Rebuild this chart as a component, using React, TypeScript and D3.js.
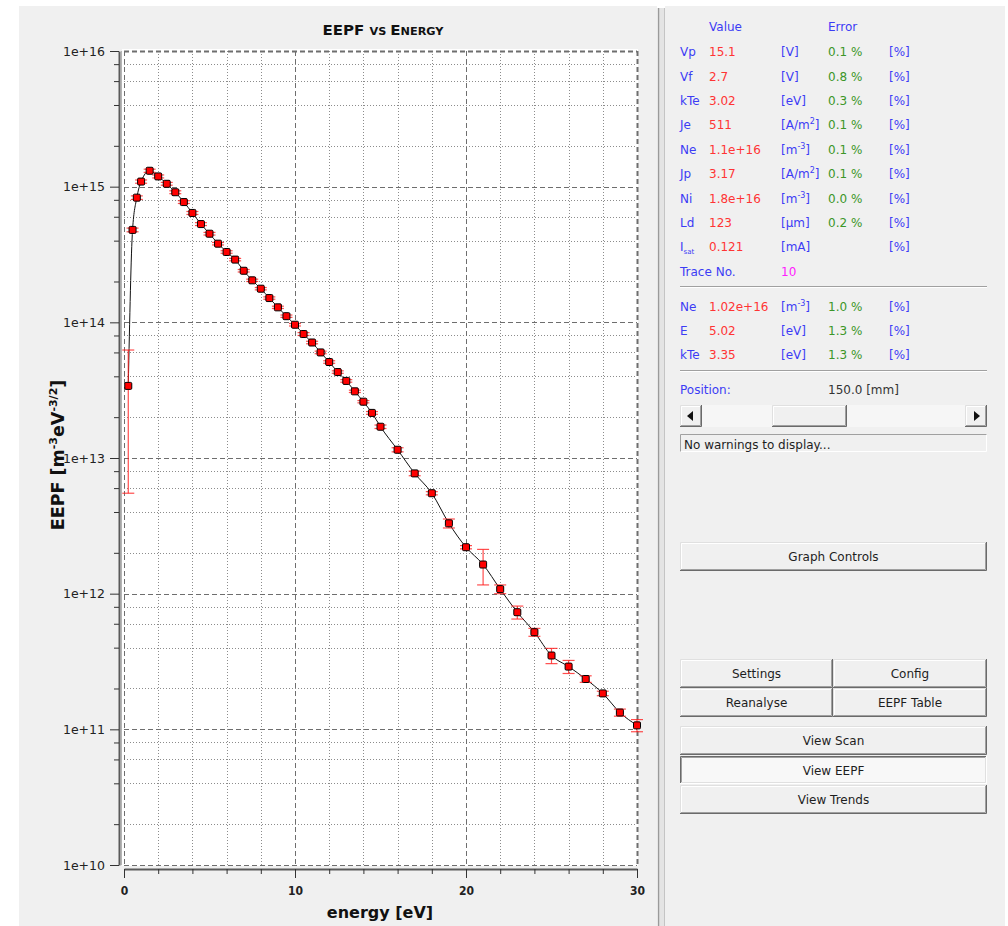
import React, { useEffect, useRef } from "react";
import * as d3 from "d3";

// EEPF measurement points
const energy = [
  0.25, 0.5, 0.75, 1, 1.5, 2, 2.5, 3, 3.5, 4, 4.5, 5, 5.5, 6, 6.5, 7, 7.5, 8,
  8.5, 9, 9.5, 10, 10.5, 11, 11.5, 12, 12.5, 13, 13.5, 14, 14.5, 15, 16, 17,
  18, 19, 20, 21, 22, 23, 24, 25, 26, 27, 28, 29, 30,
];
const eepf = [
  3.4e13, 4.8e14, 8.3e14, 1.09e15, 1.31e15, 1.19e15, 1.05e15, 9.1e14, 7.7e14,
  6.4e14, 5.3e14, 4.5e14, 3.8e14, 3.3e14, 2.9e14, 2.4e14, 2.04e14, 1.77e14,
  1.51e14, 1.29e14, 1.11e14, 9.6e13, 8.2e13, 7.1e13, 6.0e13, 5.1e13, 4.3e13,
  3.7e13, 3.1e13, 2.6e13, 2.15e13, 1.7e13, 1.15e13, 7.7e12, 5.5e12, 3.3e12,
  2.2e12, 1.64e12, 1.08e12, 7.3e11, 5.2e11, 3.5e11, 2.9e11, 2.35e11, 1.84e11,
  1.33e11, 1.07e11,
];
const eepfErr = [
  2.85e13, 1.5e13, 2.5e13, 3.0e13, 3.5e13, 3.0e13, 2.5e13, 2.2e13, 1.8e13,
  1.6e13, 1.3e13, 1.0e13, 8e12, 7e12, 6e12, 5e12, 4e12, 3.5e12, 3e12, 2.5e12,
  2.2e12, 2e12, 2e12, 1.5e12, 1.3e12, 1.1e12, 9e11, 8e11, 6e11, 5e11, 5e11,
  5e11, 4e11, 3e11, 1.5e11, 2.5e11, 6e10, 4.8e11, 8e10, 8e10, 3.5e10, 4.5e10,
  3.2e10, 1.3e10, 7e9, 8e9, 1.1e10,
];

const yTickValues = [1e10, 1e11, 1e12, 1e13, 1e14, 1e15, 1e16];
const yTickLabels = ["1e+10", "1e+11", "1e+12", "1e+13", "1e+14", "1e+15", "1e+16"];
const yMinorFactors = [2, 4, 6, 8];
const xTickValues = [0, 10, 20, 30];
const xTickLabels = ["0", "10", "20", "30"];
const xMinorValues = [2, 4, 6, 8, 12, 14, 16, 18, 22, 24, 26, 28];

// side panel values
const paramNames = ["Vp", "Vf", "kTe", "Je", "Ne", "Jp", "Ni", "Ld", "I"];
const paramValues = ["15.1", "2.7", "3.02", "511", "1.1e+16", "3.17", "1.8e+16", "123", "0.121"];
const paramUnits = ["[V]", "[V]", "[eV]", "[A/m^2]", "[m^-3]", "[A/m^2]", "[m^-3]", "[µm]", "[mA]"];
const paramErrors = ["0.1 %", "0.8 %", "0.3 %", "0.1 %", "0.1 %", "0.1 %", "0.0 %", "0.2 %", ""];
const fitNames = ["Ne", "E", "kTe"];
const fitValues = ["1.02e+16", "5.02", "3.35"];
const fitUnits = ["[m^-3]", "[eV]", "[eV]"];
const fitErrors = ["1.0 %", "1.3 %", "1.3 %"];

const FONT = "'DejaVu Sans', Verdana, sans-serif";
const BLUE = "#3c3cf5";
const RED = "#ff3434";
const GREEN = "#3c9628";

const Unit = ({ text }: { text: string }) => {
  const i = text.indexOf("^");
  if (i < 0) return <>{text}</>;
  const sup = text.slice(i + 1, text.length - 1);
  return (
    <>
      <tspan>{text.slice(0, i)}</tspan>
      <tspan dy={-5} fontSize={8}>{sup}</tspan>
      <tspan dy={5}>]</tspan>
    </>
  );
};

const Button = ({ x, y, w, h, label, pressed = false }: any) => (
  <g>
    <rect x={x} y={y} width={w} height={h} fill={pressed ? "#f8f8f8" : "#f0f0f0"} />
    <path
      d={`M${x + 0.5},${y + h - 1} V${y + 0.5} H${x + w - 1}`}
      stroke={pressed ? "#6a6a6a" : "#e0e0e0"}
      fill="none"
    />
    <path
      d={`M${x + 1.5},${y + h - 2} V${y + 1.5} H${x + w - 2}`}
      stroke={pressed ? "#a0a0a0" : "#ffffff"}
      fill="none"
    />
    <path
      d={`M${x},${y + h - 0.5} H${x + w - 0.5} V${y}`}
      stroke={pressed ? "#ffffff" : "#6a6a6a"}
      fill="none"
    />
    <path
      d={`M${x + 1},${y + h - 1.5} H${x + w - 1.5} V${y + 1}`}
      stroke={pressed ? "#e0e0e0" : "#a0a0a0"}
      fill="none"
    />
    {label && (
      <text
        x={x + w / 2}
        y={y + h / 2 + 4.5}
        textAnchor="middle"
        fontSize={12}
        fill="#1e1e1e"
        fontFamily={FONT}
      >
        {label}
      </text>
    )}
  </g>
);

const EepfChart = () => {
  const ref = useRef<SVGGElement | null>(null);

  useEffect(() => {
    const g = d3.select(ref.current);
    g.selectAll("*").remove();

    const x = d3.scaleLinear().domain([0, 30]).range([124, 637]);
    const y = d3.scaleLog().domain([1e10, 1e16]).range([865, 51]);

    // plot canvas
    g.append("rect")
      .attr("x", 122)
      .attr("y", 49)
      .attr("width", 516)
      .attr("height", 817)
      .attr("fill", "#ffffff");

    const yMinor: number[] = [];
    yTickValues.slice(0, -1).forEach((d) => yMinorFactors.forEach((k) => yMinor.push(d * k)));

    // minor grid
    g.selectAll(".ymin")
      .data(yMinor)
      .enter()
      .append("line")
      .attr("x1", x(0))
      .attr("x2", x(30))
      .attr("y1", (d) => Math.round(y(d)) + 0.5)
      .attr("y2", (d) => Math.round(y(d)) + 0.5)
      .attr("stroke", "#8c8c8c")
      .attr("stroke-dasharray", "1,2");
    g.selectAll(".xmin")
      .data(xMinorValues)
      .enter()
      .append("line")
      .attr("x1", (d) => Math.round(x(d)) + 0.5)
      .attr("x2", (d) => Math.round(x(d)) + 0.5)
      .attr("y1", y(1e16))
      .attr("y2", y(1e10))
      .attr("stroke", "#8c8c8c")
      .attr("stroke-dasharray", "1,2");

    // major grid
    g.selectAll(".ymaj")
      .data(yTickValues)
      .enter()
      .append("line")
      .attr("x1", x(0))
      .attr("x2", x(30))
      .attr("y1", (d) => Math.round(y(d)) + 0.5)
      .attr("y2", (d) => Math.round(y(d)) + 0.5)
      .attr("stroke", "#6e6e6e")
      .attr("stroke-width", (d, i) => (i === yTickValues.length - 1 ? 2 : 1))
      .attr("stroke-dasharray", "5,3");
    g.selectAll(".xmaj")
      .data(xTickValues)
      .enter()
      .append("line")
      .attr("x1", (d) => Math.round(x(d)) + 0.5)
      .attr("x2", (d) => Math.round(x(d)) + 0.5)
      .attr("y1", y(1e16))
      .attr("y2", y(1e10))
      .attr("stroke", "#6e6e6e")
      .attr("stroke-width", (d, i) => (i === xTickValues.length - 1 ? 2 : 1))
      .attr("stroke-dasharray", "5,3");

    const pts = energy.map((e, i) => ({ e, v: eepf[i], err: eepfErr[i] }));

    // curve
    const line = d3
      .line<{ e: number; v: number }>()
      .x((d) => x(d.e))
      .y((d) => y(d.v))
      .curve(d3.curveMonotoneX);
    g.append("path")
      .datum(pts)
      .attr("d", line)
      .attr("fill", "none")
      .attr("stroke", "#111")
      .attr("stroke-width", 1);

    // error bars
    const eb = g.append("g").attr("stroke", "#ff2020").attr("stroke-opacity", 0.8).attr("stroke-width", 1.2);
    pts.forEach((d) => {
      const cx = x(d.e);
      const y1 = y(d.v + d.err);
      const y2 = y(Math.max(d.v - d.err, 1e10));
      eb.append("line").attr("x1", cx).attr("x2", cx).attr("y1", y1).attr("y2", y2);
      [y1, y2].forEach((yy) =>
        eb.append("line").attr("x1", cx - 6).attr("x2", cx + 6).attr("y1", yy).attr("y2", yy),
      );
    });

    // markers
    g.selectAll(".pt")
      .data(pts)
      .enter()
      .append("rect")
      .attr("x", (d) => x(d.e) - 3.5)
      .attr("y", (d) => y(d.v) - 3.5)
      .attr("width", 7)
      .attr("height", 7)
      .attr("rx", 1.2)
      .attr("fill", "#ff0000")
      .attr("stroke", "#000")
      .attr("stroke-width", 1);

    // left axis
    const yAxis = g
      .append("g")
      .attr("transform", "translate(119,0)")
      .call(
        d3
          .axisLeft(y)
          .tickValues(yTickValues)
          .tickFormat((d, i) => yTickLabels[i])
          .tickSize(9)
          .tickSizeOuter(0)
          .tickPadding(5),
      );
    yAxis.select(".domain").attr("stroke", "#5a5a5a").attr("stroke-width", 2);
    yAxis.selectAll(".tick line").attr("stroke", "#333");
    yAxis.selectAll("text").attr("font-size", 12.5).attr("font-family", FONT).attr("fill", "#222");
    g.append("g")
      .attr("transform", "translate(119,0)")
      .call(d3.axisLeft(y).tickValues(yMinor).tickFormat(() => "").tickSize(5).tickSizeOuter(0))
      .call((a) => a.select(".domain").remove())
      .selectAll(".tick line")
      .attr("stroke", "#333");
    g.append("line")
      .attr("x1", 121.5)
      .attr("x2", 121.5)
      .attr("y1", y(1e16))
      .attr("y2", y(1e10))
      .attr("stroke", "#b4b4b4");

    // bottom axis
    const xAxis = g
      .append("g")
      .attr("transform", "translate(0,869)")
      .call(
        d3
          .axisBottom(x)
          .tickValues(xTickValues)
          .tickFormat((d, i) => xTickLabels[i])
          .tickSize(9)
          .tickSizeOuter(0)
          .tickPadding(8),
      );
    xAxis.select(".domain").attr("stroke", "#5a5a5a").attr("stroke-width", 2);
    xAxis.selectAll(".tick line").attr("stroke", "#333");
    xAxis
      .selectAll("text")
      .attr("font-size", 12)
      .attr("font-weight", "bold")
      .attr("font-family", "'DejaVu Sans Condensed', " + FONT)
      .attr("fill", "#222");
    g.append("g")
      .attr("transform", "translate(0,869)")
      .call(d3.axisBottom(x).tickValues(xMinorValues).tickFormat(() => "").tickSize(5).tickSizeOuter(0))
      .call((a) => a.select(".domain").remove())
      .selectAll(".tick line")
      .attr("stroke", "#333");
  }, []);

  return <g ref={ref} />;
};

export default function App() {
  const rowY = (i: number) => 51.7 + i * 24.4;
  const fitY = (i: number) => 306 + i * 24.2;

  return (
    <div style={{ position: "absolute", left: 0, top: 0 }}>
      <svg width={1008} height={926} style={{ display: "block", background: "#fff" }} fontFamily={FONT}>
        {/* left panel */}
        <rect x={19} y={6} width={638} height={920} fill="#f0f0f0" />
        {/* splitter */}
        <rect x={658} y={8} width={7} height={918} fill="#e4e4e4" />
        <line x1={658.5} x2={658.5} y1={8} y2={926} stroke="#9a9a9a" strokeWidth={1.5} />
        <line x1={664.5} x2={664.5} y1={8} y2={926} stroke="#c4c4c4" />
        {/* right panel */}
        <rect x={665} y={6} width={340} height={920} fill="#f0f0f0" />

        {/* chart */}
        <EepfChart />
        <text x={383} y={35} textAnchor="middle" fontWeight="bold" fill="#111" textLength={121} lengthAdjust="spacingAndGlyphs">
          <tspan fontSize={14}>EEPF </tspan>
          <tspan fontSize={10.5}>VS </tspan>
          <tspan fontSize={14}>E</tspan>
          <tspan fontSize={10.5}>NERGY</tspan>
        </text>
        <text x={380} y={918} textAnchor="middle" fontWeight="bold" fontSize={16} fill="#111">
          energy [eV]
        </text>
        <text transform="translate(64,455) rotate(-90)" textAnchor="middle" fontWeight="bold" fontSize={17.5} fill="#111">
          <tspan>EEPF [m</tspan>
          <tspan dy={-7} fontSize={11}>-3</tspan>
          <tspan dy={7}>eV</tspan>
          <tspan dy={-7} fontSize={11}>-3/2</tspan>
          <tspan dy={7}>]</tspan>
        </text>

        {/* parameter table */}
        <g fontSize={12}>
          <text x={709} y={31} fill={BLUE}>Value</text>
          <text x={828} y={31} fill={BLUE}>Error</text>
          {paramNames.map((n, i) => (
            <g key={"p" + i}>
              <text x={680} y={rowY(i) + 4.5} fill={BLUE}>
                {n}
                {n === "I" && <tspan dy={3} fontSize={7}>sat</tspan>}
              </text>
              <text x={709} y={rowY(i) + 4.5} fill={RED}>{paramValues[i]}</text>
              <text x={781} y={rowY(i) + 4.5} fill={BLUE}><Unit text={paramUnits[i]} /></text>
              <text x={828} y={rowY(i) + 4.5} fill={GREEN}>{paramErrors[i]}</text>
              <text x={889} y={rowY(i) + 4.5} fill={BLUE}>[%]</text>
            </g>
          ))}
          <text x={680} y={275.5} fill={BLUE}>Trace No.</text>
          <text x={781} y={275.5} fill="#ff20ff">10</text>
          <line x1={680} x2={987} y1={286.5} y2={286.5} stroke="#a0a0a0" />
          <line x1={680} x2={987} y1={287.5} y2={287.5} stroke="#ffffff" />
          {fitNames.map((n, i) => (
            <g key={"f" + i}>
              <text x={680} y={fitY(i) + 4.5} fill={BLUE}>{n}</text>
              <text x={709} y={fitY(i) + 4.5} fill={RED}>{fitValues[i]}</text>
              <text x={781} y={fitY(i) + 4.5} fill={BLUE}><Unit text={fitUnits[i]} /></text>
              <text x={828} y={fitY(i) + 4.5} fill={GREEN}>{fitErrors[i]}</text>
              <text x={889} y={fitY(i) + 4.5} fill={BLUE}>[%]</text>
            </g>
          ))}
          <line x1={680} x2={987} y1={370.5} y2={370.5} stroke="#a0a0a0" />
          <line x1={680} x2={987} y1={371.5} y2={371.5} stroke="#ffffff" />
          <text x={680} y={394} fill={BLUE}>Position:</text>
          <text x={828} y={394} fill="#333">150.0 [mm]</text>

          {/* scrollbar */}
          <rect x={680} y={405} width={307} height={22} fill="#f6f6f6" />
          <Button x={680} y={405} w={22} h={22} />
          <path d="M687,416 L693,411 L693,421 Z" fill="#111" />
          <Button x={772} y={405} w={75} h={22} />
          <Button x={965} y={405} w={22} h={22} />
          <path d="M980,416 L974,411 L974,421 Z" fill="#111" />

          {/* warnings */}
          <rect x={680} y={434} width={307} height={18} fill="#f0f0f0" />
          <path d="M680.5,452 V434.5 H987" stroke="#a0a0a0" fill="none" />
          <path d="M680.5,451.5 H986.5 V434.5" stroke="#ffffff" fill="none" />
          <text x={684} y={449} fill="#1e1e1e">No warnings to display...</text>
        </g>

        <Button x={680} y={542} w={307} h={29} label="Graph Controls" />
        <Button x={680} y={659} w={153} h={29} label="Settings" />
        <Button x={833} y={659} w={154} h={29} label="Config" />
        <Button x={680} y={688} w={153} h={29} label="Reanalyse" />
        <Button x={833} y={688} w={154} h={29} label="EEPF Table" />
        <Button x={680} y={726} w={307} h={29} label="View Scan" />
        <Button x={680} y={756} w={307} h={28} label="View EEPF" pressed />
        <Button x={680} y={785} w={307} h={29} label="View Trends" />
      </svg>
    </div>
  );
}
